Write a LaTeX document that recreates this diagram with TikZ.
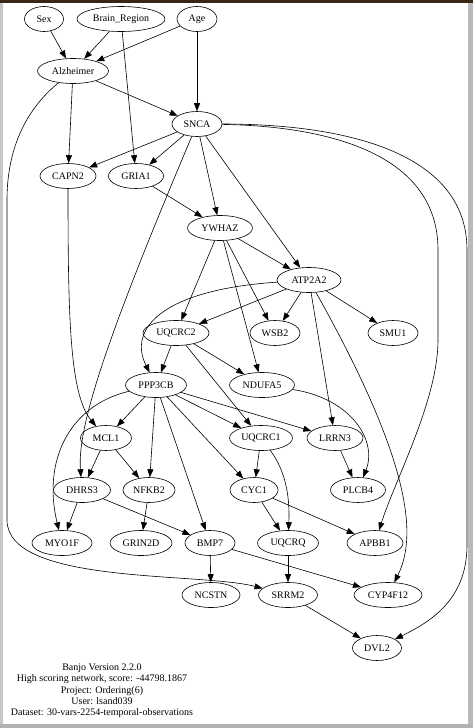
\documentclass[tikz,border=0pt]{standalone}
\usepackage{fontspec}
\setmainfont{Liberation Serif}
\usetikzlibrary{shapes.geometric,arrows.meta}
\begin{document}
\begin{tikzpicture}[x=1pt,y=-1pt,
  nd/.style={draw,ellipse,minimum height=25pt,inner sep=0pt,line width=0.6pt,font=\fontsize{10}{12}\selectfont},
  edge/.style={line width=0.6pt,-{Triangle[length=8pt,width=6pt]}}]
\useasboundingbox (0,0) rectangle (473,728);
\fill[white] (0,0) rectangle (473,728);
% window frame
\fill[gray!45] (0,0) rectangle (3,728);
\fill[gray!55] (468,0) rectangle (473,728);
\fill[gray!60] (0,724) rectangle (473,728);
\fill[black!70!brown] (0,0) rectangle (473,3);
% nodes
\node[nd,minimum width=39pt] (Sex) at (44,19) {Sex};
\node[nd,minimum width=88pt] (Brain) at (121,19) {Brain\_Region};
\node[nd,minimum width=40pt] (Age) at (197,19) {Age};
\node[nd,minimum width=71pt] (Alz) at (73,71) {Alzheimer};
\node[nd,minimum width=50pt] (SNCA) at (197,124) {SNCA};
\node[nd,minimum width=56pt] (CAPN2) at (68,176) {CAPN2};
\node[nd,minimum width=55pt] (GRIA1) at (136,176) {GRIA1};
\node[nd,minimum width=65pt] (YWHAZ) at (220,228) {YWHAZ};
\node[nd,minimum width=64pt] (ATP2A2) at (309,280) {ATP2A2};
\node[nd,minimum width=66pt] (UQCRC2) at (176,333) {UQCRC2};
\node[nd,minimum width=50pt] (WSB2) at (275,333) {WSB2};
\node[nd,minimum width=50pt] (SMU1) at (393,333) {SMU1};
\node[nd,minimum width=61pt] (PPP3CB) at (156,385) {PPP3CB};
\node[nd,minimum width=65pt] (NDUFA5) at (262,385) {NDUFA5};
\node[nd,minimum width=51pt] (MCL1) at (106,438) {MCL1};
\node[nd,minimum width=63pt] (UQCRC1) at (261,438) {UQCRC1};
\node[nd,minimum width=56pt] (LRRN3) at (335,438) {LRRN3};
\node[nd,minimum width=57pt] (DHRS3) at (82,490) {DHRS3};
\node[nd,minimum width=52pt] (NFKB2) at (149,490) {NFKB2};
\node[nd,minimum width=48pt] (CYC1) at (254,490) {CYC1};
\node[nd,minimum width=55pt] (PLCB4) at (358,490) {PLCB4};
\node[nd,minimum width=60pt] (MYO1F) at (62,543) {MYO1F};
\node[nd,minimum width=62pt] (GRIN2D) at (141,543) {GRIN2D};
\node[nd,minimum width=50pt] (BMP7) at (210,543) {BMP7};
\node[nd,minimum width=61pt] (UQCRQ) at (288,543) {UQCRQ};
\node[nd,minimum width=56pt] (APBB1) at (375,543) {APBB1};
\node[nd,minimum width=58pt] (NCSTN) at (211,595) {NCSTN};
\node[nd,minimum width=59pt] (SRRM2) at (288,595) {SRRM2};
\node[nd,minimum width=68pt] (CYP4F12) at (388,595) {CYP4F12};
\node[nd,minimum width=49pt] (DVL2) at (377,648) {DVL2};
% info text
\node[align=center,inner sep=0pt,font=\fontsize{10}{11.3}\selectfont] (info) at (102,691)
  {Banjo Version 2.2.0\\High scoring network, score: -44798.1867\\Project: Ordering(6)\\User: lsand039\\Dataset: 30-vars-2254-temporal-observations};
% edges
\draw[edge] (Sex) -- (Alz);
\draw[edge] (Brain) -- (Alz);
\draw[edge] (Age) -- (Alz);
\draw[edge] (Brain) -- (GRIA1);
\draw[edge] (Age) -- (SNCA);
\draw[edge] (Alz) -- (SNCA);
\draw[edge] (Alz) -- (CAPN2);
\draw[edge] (Alz) .. controls (25,110) and (7,150) .. (7,200) -- (7,520) .. controls (7,585) and (200,572) .. (SRRM2);
\draw[edge] (SNCA) -- (CAPN2);
\draw[edge] (SNCA) -- (GRIA1);
\draw[edge] (SNCA) -- (YWHAZ);
\draw[edge] (SNCA) -- (ATP2A2);
\draw[edge] (SNCA) .. controls (110,330) and (77,425) .. (DHRS3);
\draw[edge] (SNCA) .. controls (320,126) and (438,150) .. (438,250) -- (438,340) .. controls (438,400) and (395,480) .. (APBB1);
\draw[edge] (SNCA) .. controls (340,124) and (467,150) .. (467,250) -- (467,545) .. controls (467,600) and (430,622) .. (DVL2);
\draw[edge] (GRIA1) -- (YWHAZ);
\draw[edge] (CAPN2) .. controls (68,320) and (70,395) .. (MCL1);
\draw[edge] (YWHAZ) -- (ATP2A2);
\draw[edge] (YWHAZ) -- (UQCRC2);
\draw[edge] (YWHAZ) -- (WSB2);
\draw[edge] (YWHAZ) -- (NDUFA5);
\draw[edge] (ATP2A2) -- (WSB2);
\draw[edge] (ATP2A2) -- (SMU1);
\draw[edge] (ATP2A2) -- (UQCRC2);
\draw[edge] (ATP2A2) .. controls (160,290) and (128,330) .. (PPP3CB);
\draw[edge] (ATP2A2) -- (LRRN3);
\draw[edge] (ATP2A2) .. controls (410,460) and (418,535) .. (CYP4F12);
\draw[edge] (UQCRC2) -- (PPP3CB);
\draw[edge] (UQCRC2) -- (NDUFA5);
\draw[edge] (UQCRC2) -- (UQCRC1);
\draw[edge] (NDUFA5) .. controls (350,398) and (378,440) .. (PLCB4);
\draw[edge] (PPP3CB) -- (MCL1);
\draw[edge] (PPP3CB) .. controls (70,405) and (42,460) .. (MYO1F);
\draw[edge] (PPP3CB) -- (NFKB2);
\draw[edge] (PPP3CB) -- (BMP7);
\draw[edge] (PPP3CB) -- (CYC1);
\draw[edge] (PPP3CB) -- (UQCRC1);
\draw[edge] (PPP3CB) -- (LRRN3);
\draw[edge] (MCL1) -- (DHRS3);
\draw[edge] (MCL1) -- (NFKB2);
\draw[edge] (UQCRC1) -- (CYC1);
\draw[edge] (UQCRC1) .. controls (285,470) and (290,495) .. (UQCRQ);
\draw[edge] (LRRN3) -- (PLCB4);
\draw[edge] (CYC1) -- (UQCRQ);
\draw[edge] (CYC1) -- (APBB1);
\draw[edge] (DHRS3) -- (MYO1F);
\draw[edge] (DHRS3) -- (BMP7);
\draw[edge] (NFKB2) -- (GRIN2D);
\draw[edge] (BMP7) -- (NCSTN);
\draw[edge] (BMP7) -- (CYP4F12);
\draw[edge] (UQCRQ) -- (SRRM2);
\draw[edge] (SRRM2) -- (DVL2);
\end{tikzpicture}
\end{document}
